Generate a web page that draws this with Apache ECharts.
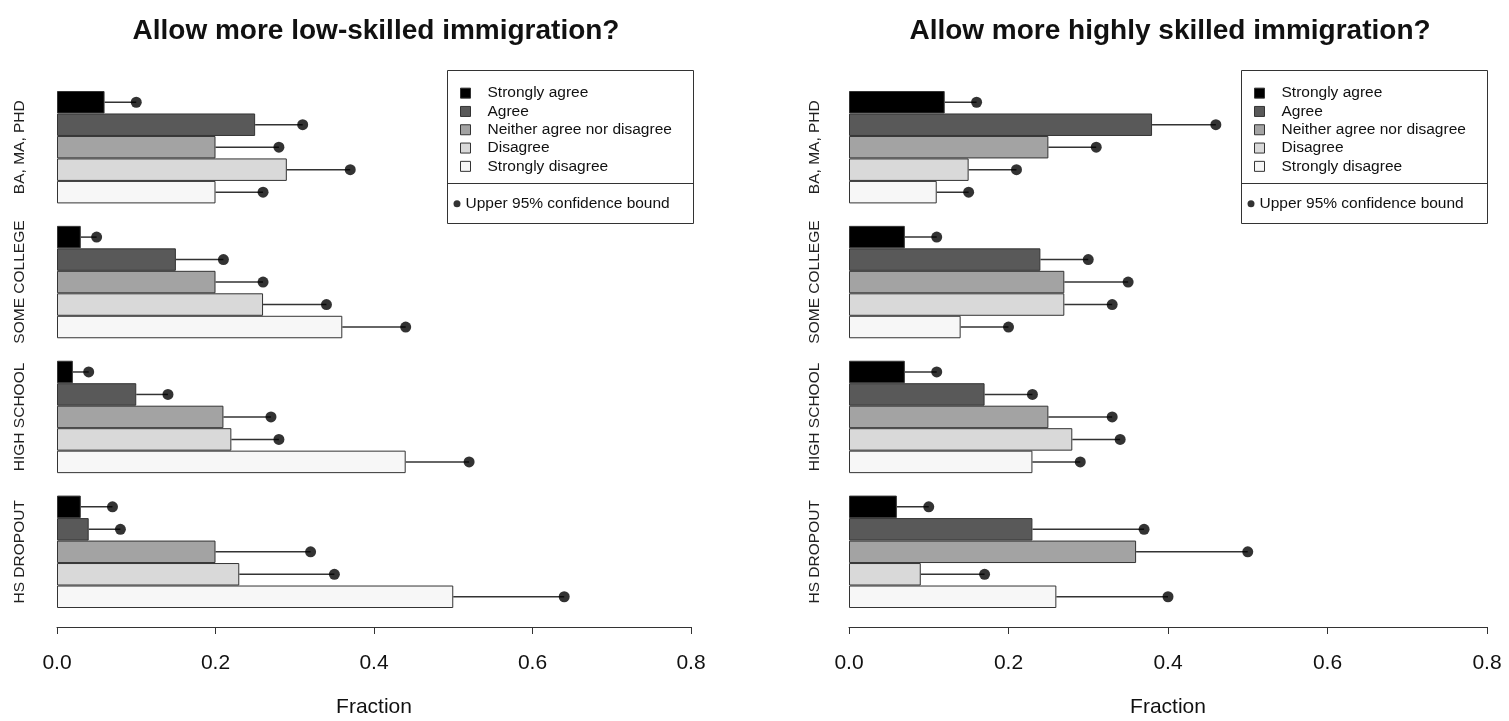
<!DOCTYPE html>
<html>
<head>
<meta charset="utf-8">
<script src="https://cdn.jsdelivr.net/npm/echarts@6/dist/echarts.min.js"></script>
<style>
  html, body { margin: 0; padding: 0; background: #fff; }
  #chart { width: 1509px; height: 721px; }
</style>
</head>
<body>
<div id="chart"></div>
<script>
const groups = ['BA, MA, PHD', 'SOME COLLEGE', 'HIGH SCHOOL', 'HS DROPOUT'];
const responses = ['Strongly agree', 'Agree', 'Neither agree nor disagree', 'Disagree', 'Strongly disagree'];
const ciName = 'Upper 95% confidence bound';
const fills = ['#000000', '#595959', '#a3a3a3', '#d9d9d9', '#f7f7f7'];

// one row per education group, one value per response
const lowShare = [
  [0.06, 0.25, 0.20, 0.29, 0.20],
  [0.03, 0.15, 0.20, 0.26, 0.36],
  [0.02, 0.10, 0.21, 0.22, 0.44],
  [0.03, 0.04, 0.20, 0.23, 0.50]
];
const lowUpper = [
  [0.10, 0.31, 0.28, 0.37, 0.26],
  [0.05, 0.21, 0.26, 0.34, 0.44],
  [0.04, 0.14, 0.27, 0.28, 0.52],
  [0.07, 0.08, 0.32, 0.35, 0.64]
];
const highShare = [
  [0.12, 0.38, 0.25, 0.15, 0.11],
  [0.07, 0.24, 0.27, 0.27, 0.14],
  [0.07, 0.17, 0.25, 0.28, 0.23],
  [0.06, 0.23, 0.36, 0.09, 0.26]
];
const highUpper = [
  [0.16, 0.46, 0.31, 0.21, 0.15],
  [0.11, 0.30, 0.35, 0.33, 0.20],
  [0.11, 0.23, 0.33, 0.34, 0.29],
  [0.10, 0.37, 0.50, 0.17, 0.40]
];
const xMin = 0, xMax = 0.8, xStep = 0.2;

const FONT = '"Liberation Sans", Arial, Helvetica, sans-serif';
const INK = '#333';

// 5 bar slots per group plus an empty slot between groups
const slotNames = [];
groups.forEach((g, gi) => {
  for (let k = 0; k < responses.length; k++) slotNames.push(g + '|' + k);
  if (gi < groups.length - 1) slotNames.push('gap' + gi);
});
const slotOf = (gi, k) => gi * (responses.length + 1) + k;

const panels = [
  { title: 'Allow more low-skilled immigration?', share: lowShare, upper: lowUpper, left: 57, width: 634, labelMargin: 29, box: 447 },
  { title: 'Allow more highly skilled immigration?', share: highShare, upper: highUpper, left: 849, width: 638, labelMargin: 26, box: 1241 }
];
const boxTop = 70, boxSep = 183.5, boxBottom = 223, boxWidth = 246;

const option = {
  animation: false,
  backgroundColor: '#fff',
  textStyle: { fontFamily: FONT },
  title: [],
  grid: [],
  xAxis: [],
  yAxis: [],
  legend: [],
  graphic: [],
  series: []
};

panels.forEach((p, pi) => {
  option.title.push({
    text: p.title, left: p.left + p.width / 2 - 3, top: 12, textAlign: 'center',
    textStyle: { fontFamily: FONT, fontSize: 28, fontWeight: 'bold', color: '#111' }
  });
  option.grid.push({ left: p.left, width: p.width, top: 91, height: 517, outerBoundsMode: 'none', containLabel: false });
  option.xAxis.push({
    gridIndex: pi, type: 'value', min: xMin, max: xMax, interval: xStep, offset: 19,
    axisLine: { show: true, lineStyle: { color: INK, width: 1 } },
    axisTick: { show: true, length: 7, lineStyle: { color: INK } },
    splitLine: { show: false },
    axisLabel: { fontSize: 21, margin: 26, color: '#111', fontFamily: FONT, formatter: v => v.toFixed(1) },
    name: 'Fraction', nameLocation: 'middle', nameGap: 70,
    nameTextStyle: { fontSize: 21, color: '#111', fontFamily: FONT }
  });
  option.yAxis.push({
    gridIndex: pi, type: 'category', data: slotNames, inverse: true,
    axisLine: { show: false }, axisTick: { show: false }, splitLine: { show: false },
    axisLabel: {
      interval: 0, rotate: 90, margin: p.labelMargin, fontSize: 15.5, color: '#222', fontFamily: FONT,
      formatter: v => {
        const parts = v.split('|');
        return parts[1] === '2' ? parts[0] : '';
      }
    }
  });

  responses.forEach((r, k) => {
    option.series.push({
      type: 'bar', name: r, xAxisIndex: pi, yAxisIndex: pi,
      barWidth: '100%', barGap: '-100%',
      itemStyle: { color: fills[k], borderColor: INK, borderWidth: 1 },
      data: slotNames.map((s, si) => {
        const gi = groups.findIndex((g, i) => slotOf(i, k) === si);
        return gi >= 0 ? p.share[gi][k] : null;
      }),
      silent: true, z: 2
    });
  });

  const whisk = [];
  const dots = [];
  groups.forEach((g, gi) => {
    responses.forEach((r, k) => {
      whisk.push([p.share[gi][k], p.upper[gi][k], slotOf(gi, k)]);
      dots.push([p.upper[gi][k], slotOf(gi, k)]);
    });
  });
  option.series.push({
    type: 'custom', name: 'whisker', xAxisIndex: pi, yAxisIndex: pi, silent: true, z: 1,
    encode: { x: [0, 1], y: 2 },
    data: whisk,
    renderItem: (params, api) => {
      const a = api.coord([api.value(0), api.value(2)]);
      const b = api.coord([api.value(1), api.value(2)]);
      return { type: 'line', shape: { x1: a[0], y1: a[1], x2: b[0], y2: b[1] }, style: { stroke: INK, lineWidth: 1.5 } };
    }
  });
  option.series.push({
    type: 'scatter', name: ciName, xAxisIndex: pi, yAxisIndex: pi, silent: true, z: 3,
    symbolSize: 11, itemStyle: { color: '#000' },
    data: dots
  });

  // legend: response keys (square drawn inset inside a wider icon box) and the confidence bound key
  option.legend.push({
    data: responses, left: p.box + 1, top: boxTop + 14, orient: 'vertical', padding: 0,
    itemWidth: 34, itemHeight: 10, itemGap: 0, icon: 'path://M0,0M34,10M12,0H22V10H12Z', selectedMode: false,
    itemStyle: { borderColor: INK, borderWidth: 1 },
    textStyle: { fontSize: 15.5, lineHeight: 18.3, color: '#111', fontFamily: FONT }
  });
  option.legend.push({
    data: [ciName], left: p.box + 6.5, top: boxSep + 11, orient: 'vertical', padding: 0,
    itemWidth: 7, itemHeight: 7, icon: 'circle', selectedMode: false,
    textStyle: { fontSize: 15.5, lineHeight: 18.3, color: '#111', fontFamily: FONT }
  });
  option.graphic.push({
    type: 'rect', silent: true,
    shape: { x: p.box + 0.5, y: boxTop + 0.5, width: boxWidth, height: boxBottom - boxTop },
    style: { fill: 'none', stroke: INK, lineWidth: 1 }
  });
  option.graphic.push({
    type: 'line', silent: true,
    shape: { x1: p.box + 0.5, y1: boxSep, x2: p.box + 0.5 + boxWidth, y2: boxSep },
    style: { stroke: INK, lineWidth: 1 }
  });
});

const chart = echarts.init(document.getElementById('chart'));
chart.setOption(option);
</script>
</body>
</html>
